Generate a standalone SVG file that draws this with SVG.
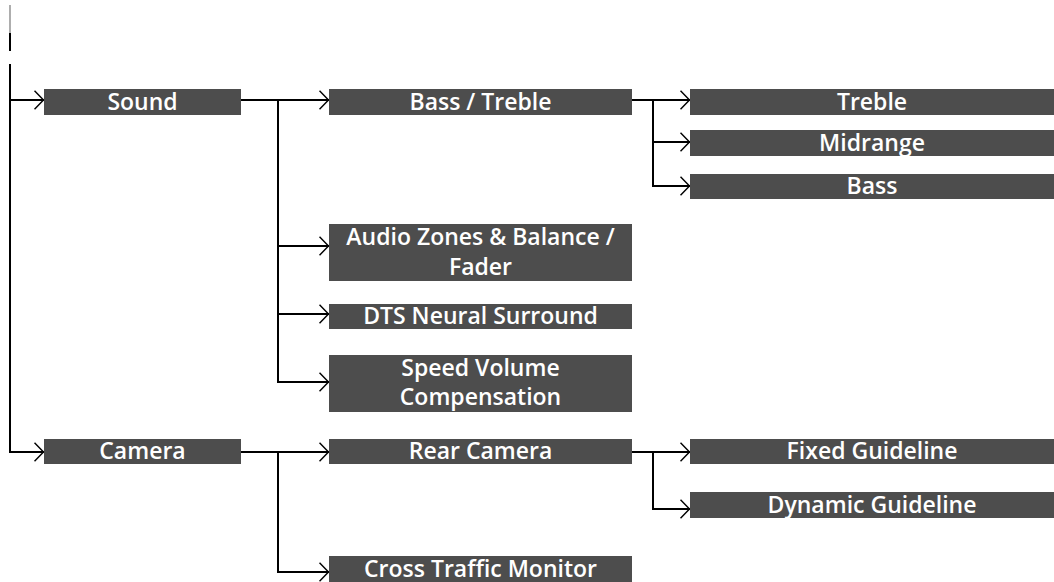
<svg xmlns="http://www.w3.org/2000/svg" width="1054" height="582" viewBox="0 0 1054 582">
<defs>
<style>
.box{fill:#4d4d4d}
.t{fill:#fff;font-family:"Open Sans","Noto Sans","DejaVu Sans",sans-serif;font-weight:600;font-size:23px;text-anchor:middle}
.c{fill:none;stroke:#000;stroke-width:2}
</style>
<marker id="arr" viewBox="0 0 10 20" refX="10" refY="10" markerWidth="10" markerHeight="20" orient="auto" markerUnits="userSpaceOnUse">
<path d="M0.5,0.8 L9.5,10 L0.5,19.2" fill="none" stroke="#000" stroke-width="1.5"/>
</marker>
</defs>
<rect width="1054" height="582" fill="#fff"/>
<g id="connectors">
<line x1="10" y1="5" x2="10" y2="33" stroke="#777" stroke-width="1.2"/>
<line x1="10" y1="33" x2="10" y2="51" stroke="#000" stroke-width="2"/>
<path class="c" d="M10,64 V452 H44" marker-end="url(#arr)"/>
<path class="c" d="M10,100 H44" marker-end="url(#arr)"/>
<path class="c" d="M241,100 H329" marker-end="url(#arr)"/>
<path class="c" d="M278,100 V382 H329" marker-end="url(#arr)"/>
<path class="c" d="M278,246 H329" marker-end="url(#arr)"/>
<path class="c" d="M278,314 H329" marker-end="url(#arr)"/>
<path class="c" d="M632,100 H690" marker-end="url(#arr)"/>
<path class="c" d="M653,100 V186 H690" marker-end="url(#arr)"/>
<path class="c" d="M653,142 H690" marker-end="url(#arr)"/>
<path class="c" d="M241,452 H329" marker-end="url(#arr)"/>
<path class="c" d="M278,452 V572 H329" marker-end="url(#arr)"/>
<path class="c" d="M632,452 H690" marker-end="url(#arr)"/>
<path class="c" d="M653,452 V509 H690" marker-end="url(#arr)"/>
</g>
<g id="sound"><rect class="box" x="44" y="89" width="197" height="26"/><text class="t" x="142.5" y="110">Sound</text></g>
<g id="bass-treble"><rect class="box" x="329" y="89" width="303" height="26"/><text class="t" x="480.5" y="110">Bass / Treble</text></g>
<g id="treble"><rect class="box" x="690" y="89" width="364" height="26"/><text class="t" x="872" y="110">Treble</text></g>
<g id="midrange"><rect class="box" x="690" y="130" width="364" height="26"/><text class="t" x="872" y="151">Midrange</text></g>
<g id="bass"><rect class="box" x="690" y="174" width="364" height="25"/><text class="t" x="872" y="194">Bass</text></g>
<g id="audio-zones"><rect class="box" x="329" y="224" width="303" height="57"/><text class="t" x="480.5" y="245">Audio Zones &amp; Balance /</text><text class="t" x="480.5" y="275">Fader</text></g>
<g id="dts"><rect class="box" x="329" y="304" width="303" height="25"/><text class="t" x="480.5" y="324">DTS Neural Surround</text></g>
<g id="speed-volume"><rect class="box" x="329" y="355" width="303" height="57"/><text class="t" x="480.5" y="376">Speed Volume</text><text class="t" x="480.5" y="405">Compensation</text></g>
<g id="camera"><rect class="box" x="44" y="439" width="197" height="25"/><text class="t" x="142.5" y="459">Camera</text></g>
<g id="rear-camera"><rect class="box" x="329" y="439" width="303" height="25"/><text class="t" x="480.5" y="459">Rear Camera</text></g>
<g id="fixed-guideline"><rect class="box" x="690" y="439" width="364" height="25"/><text class="t" x="872" y="459">Fixed Guideline</text></g>
<g id="dynamic-guideline"><rect class="box" x="690" y="492" width="364" height="26"/><text class="t" x="872" y="513">Dynamic Guideline</text></g>
<g id="cross-traffic"><rect class="box" x="329" y="556" width="303" height="26"/><text class="t" x="480.5" y="577">Cross Traffic Monitor</text></g>
</svg>
